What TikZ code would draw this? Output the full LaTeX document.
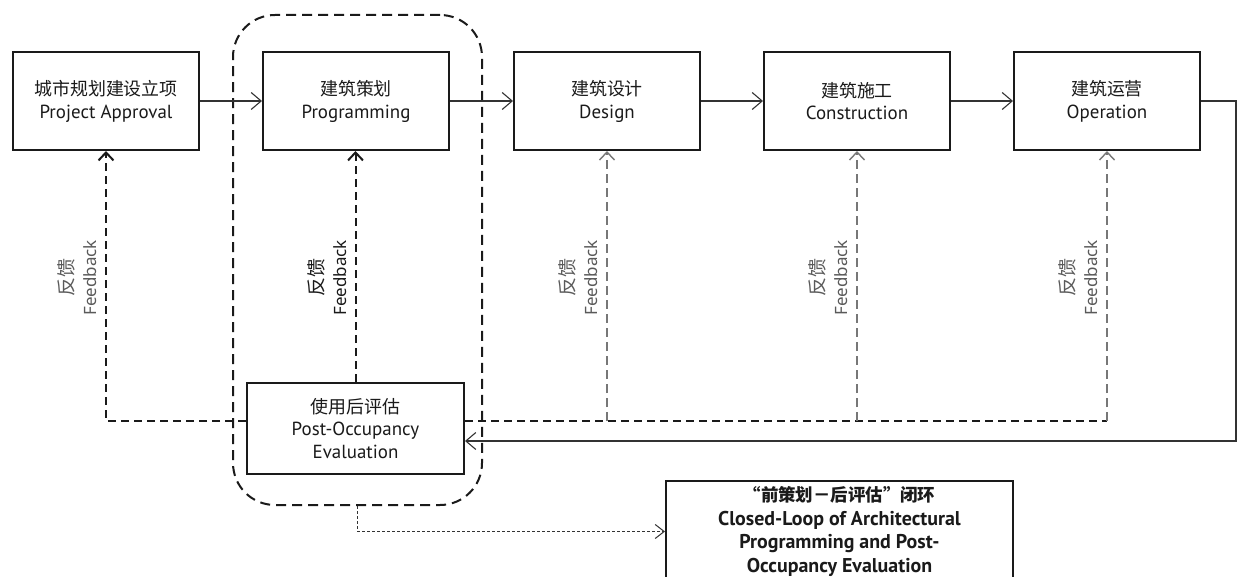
\documentclass[tikz,border=0pt]{standalone}
\usepackage{fontspec}
\setmainfont{PT Sans}
\newfontfamily\cjk{Noto Sans CJK SC}
\newfontfamily\fbfont{Noto Sans}
\usetikzlibrary{arrows.meta}
\definecolor{ink}{HTML}{1A1A1A}
\definecolor{linegray}{HTML}{333333}
\definecolor{fbgray}{HTML}{777777}
\definecolor{txtgray}{HTML}{5A5A5A}

\begin{document}
\begin{tikzpicture}[x=1bp,y=-1bp,
  stage/.style={draw=ink, line width=2bp, minimum width=186bp, minimum height=98bp,
    align=center, text=ink, inner sep=0pt, font=\fontsize{19}{23}\selectfont},
  poebox/.style={stage, minimum width=217bp, minimum height=91bp, font=\fontsize{19}{22.5}\selectfont},
  loopbox/.style={stage, minimum width=347bp, minimum height=101bp, font=\bfseries\fontsize{20}{23.5}\selectfont},
  groupbox/.style={draw=ink, line width=2bp, dash pattern=on 10bp off 6bp, rounded corners=42bp,
    minimum width=249bp, minimum height=490bp, inner sep=0pt},
  flow/.style={draw=linegray, line width=1.1bp, -{Straight Barb[length=10bp,width=17bp]}},
  fbmain/.style={draw=ink, line width=2bp, dash pattern=on 8bp off 5bp},
  fbside/.style={draw=fbgray, line width=1.4bp, dash pattern=on 9bp off 5bp},
  fbtip/.style={-{Straight Barb[length=8bp,width=15bp]}},
  dotflow/.style={draw=linegray, line width=1bp, dash pattern=on 3bp off 2bp,
    -{Straight Barb[length=9bp,width=14bp]}},
  fblabel/.style={rotate=90, anchor=south, align=center, inner sep=0pt,
    font=\fbfont\fontsize{17}{23}\selectfont},
]
\useasboundingbox (0,0) rectangle (1244,577);
\fill[white] (0,0) rectangle (1244,577);

% process stages
\node[stage] (b1) at (106,101) {{\cjk\fontsize{18}{23}\selectfont 城市规划建设立项}\\Project Approval};
\node[stage] (b2) at (356,101) {{\cjk\fontsize{18}{23}\selectfont 建筑策划}\\Programming};
\node[stage] (b3) at (607,101) {{\cjk\fontsize{18}{23}\selectfont 建筑设计}\\Design};
\node[stage] (b4) at (857,101) {{\cjk\fontsize{18}{23}\selectfont 建筑施工}\\Construction};
\node[stage] (b5) at (1107,101) {{\cjk\fontsize{18}{23}\selectfont 建筑运营}\\Operation};

% post-occupancy evaluation and the loop grouping
\node[poebox] (poe) at (355.5,428.5) {{\cjk\fontsize{18}{22.5}\selectfont 使用后评估}\\Post-Occupancy\\Evaluation};
\node[groupbox] (grp) at (357.5,260) {};
\node[loopbox] (loop) at (839.5,531.5) {{\cjk\fontsize{17.5}{23.5}\selectfont “前策划－后评估”闭环}\\Closed-Loop of Architectural\\Programming and Post-\\Occupancy Evaluation};

% main flow
\draw[flow] (b1.east) -- (b2.west);
\draw[flow] (b2.east) -- (b3.west);
\draw[flow] (b3.east) -- (b4.west);
\draw[flow] (b4.east) -- (b5.west);
\coordinate (retcorner) at (1236,441);
\draw[flow] (b5.east) -| (retcorner) -- (retcorner -| poe.east);

% feedback paths
\coordinate (fbrow) at (0,421);
\draw[fbmain, fbtip] (poe.west |- fbrow) -| (b1.south);
\draw[fbmain, fbtip] (poe.north) -- (poe.north |- b2.south);
\draw[fbmain] (poe.east |- fbrow) -- (fbrow -| b5.south);
\draw[fbside, fbtip] (fbrow -| b3.south) -- (b3.south);
\draw[fbside, fbtip] (fbrow -| b4.south) -- (b4.south);
\draw[fbside, fbtip] (fbrow -| b5.south) -- (b5.south);

% feedback labels
\node[fblabel, text=txtgray] (fb1) at (97,278) {{\cjk\fontsize{19}{23}\selectfont 反馈}\\Feedback};
\node[fblabel, text=ink] (fb2) at (347,278) {{\cjk\fontsize{19}{23}\selectfont 反馈}\\Feedback};
\node[fblabel, text=txtgray] (fb3) at (598,278) {{\cjk\fontsize{19}{23}\selectfont 反馈}\\Feedback};
\node[fblabel, text=txtgray] (fb4) at (848,278) {{\cjk\fontsize{19}{23}\selectfont 反馈}\\Feedback};
\node[fblabel, text=txtgray] (fb5) at (1098,278) {{\cjk\fontsize{19}{23}\selectfont 反馈}\\Feedback};

% closing the loop
\draw[dotflow] (grp.south) |- (loop.west);
\end{tikzpicture}
\end{document}
